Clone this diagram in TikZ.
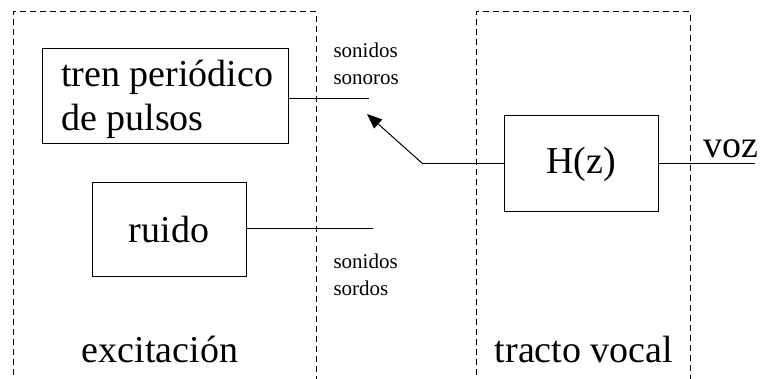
\documentclass[tikz,border=0pt]{standalone}
\usepackage{fontspec}
\setmainfont{Liberation Serif}
\usetikzlibrary{arrows.meta}

\tikzset{
  bloque/.style={draw, line width=1pt, inner sep=0pt},
  zona/.style={draw, line width=1pt, dash pattern=on 6pt off 4pt},
  grande/.style={font=\fontsize{38}{44}\selectfont},
  chico/.style={font=\fontsize{21}{27}\selectfont, align=left},
  hilo/.style={line width=1pt}
}

\begin{document}
\begin{tikzpicture}[x=1pt,y=-1pt]
			\useasboundingbox (0,0) rectangle (760,379);
			\clip (0,0) rectangle (760,379);

			% zonas
			\draw[zona] (13,395) -- (13,12) -- (316,12) -- (316,395);
			\draw[zona] (476,395) -- (476,12) -- (690,12) -- (690,395);
			\node[grande, anchor=base] (exc) at (160,362) {excitación};
			\node[grande, anchor=base] (tracto) at (584,362) {tracto vocal};

			% fuentes
			\node[bloque, minimum width=246, minimum height=95] (tren) at (165,96.5) {};
			\node[grande, align=left, anchor=west, inner sep=0pt] (trentxt) at (61,99.5) {tren periódico\\de pulsos};
			\node[bloque, grande, minimum width=154, minimum height=94] (ruido) at (169,230) {ruido};

			% llave
			\coordinate (sonoro) at (369,99);
			\coordinate (sordo) at (373,229);
			\coordinate (punta) at (367,114);
			\coordinate (codo) at (423,164);
			\draw[hilo] (tren.east |- sonoro) -- (sonoro);
			\draw[hilo] (ruido.east |- sordo) -- (sordo);
			\node[chico, anchor=west] (lsonoro) at (330,64) {sonidos\\sonoros};
			\node[chico, anchor=west] (lsordo) at (330,275) {sonidos\\sordos};

			% filtro
			\node[bloque, grande, minimum width=154, minimum height=96] (hz) at (581,164) {H(z)};
			\coordinate (salida) at (755,164);
			\draw[hilo] (hz.west) -- (codo);
			\draw[hilo, -{Triangle[length=15pt,width=12pt]}] (codo) -- (punta);
			\draw[hilo] (hz.east) -- (salida);
			\node[grande, anchor=base west] (voz) at (700,158) {voz};
		\end{tikzpicture}
\end{document}
